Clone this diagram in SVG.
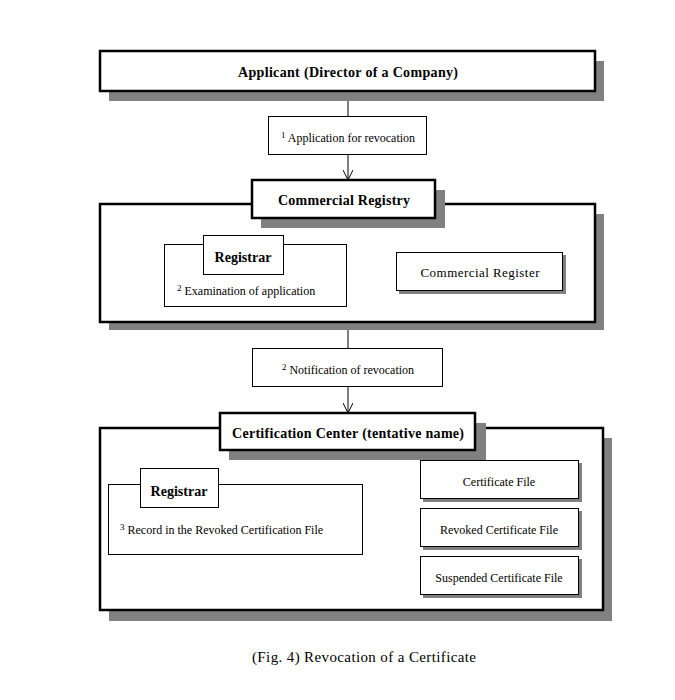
<svg xmlns="http://www.w3.org/2000/svg" width="675" height="700" viewBox="0 0 675 700">
<style>
text{font-family:"Liberation Serif","Times New Roman",serif;fill:#000}
.b{font-weight:bold;font-size:14px}
.s{font-size:12px}
.m{font-size:13px}
.sup{font-size:9px}
.thick{fill:#fff;stroke:#000;stroke-width:2.5}
.thin{fill:#fff;stroke:#000;stroke-width:1}
.sh{fill:#808080}
.conn{stroke:#000;stroke-width:1;fill:none}
</style>
<defs>
<marker id="arr" viewBox="0 0 10 10" refX="10" refY="5" markerWidth="10" markerHeight="10" markerUnits="userSpaceOnUse" orient="auto">
<path d="M0,0 L10,5 L0,10" fill="none" stroke="#000" stroke-width="1"/>
</marker>
</defs>
<rect width="675" height="700" fill="#fff"/>

<g id="connectors">
<line class="conn" x1="348" y1="91" x2="348" y2="116"/>
<line class="conn" x1="348" y1="155" x2="348" y2="180" marker-end="url(#arr)"/>
<line class="conn" x1="348" y1="322" x2="348" y2="348"/>
<line class="conn" x1="348" y1="387" x2="348" y2="413" marker-end="url(#arr)"/>
</g>

<g id="applicant">
<rect class="sh" x="109" y="61" width="495" height="40"/>
<rect class="thick" x="100" y="51" width="495" height="40"/>
<text class="b" x="348" y="77" text-anchor="middle" textLength="220" lengthAdjust="spacing">Applicant (Director of a Company)</text>
</g>

<g id="label1">
<rect class="thin" x="268.5" y="116.5" width="158" height="38"/>
<text class="s" x="348" y="142" text-anchor="middle"><tspan class="sup" dy="-4">1</tspan><tspan dy="4"> Application for revocation</tspan></text>
</g>

<g id="commercial-registry">
<rect class="sh" x="109" y="214" width="495" height="116"/>
<rect class="thick" x="100" y="204" width="495" height="118"/>
<rect class="sh" x="261" y="190" width="184" height="38"/>
<rect class="thick" x="252" y="180" width="183" height="38"/>
<text class="b" x="344" y="205" text-anchor="middle" textLength="132" lengthAdjust="spacing">Commercial Registry</text>
</g>

<g id="registrar1">
<rect class="thin" x="164.5" y="244.5" width="182" height="62"/>
<rect class="thin" x="203.5" y="235.5" width="80" height="39"/>
<text class="b" x="243" y="262" text-anchor="middle">Registrar</text>
<text class="s" x="177" y="295"><tspan class="sup" dy="-4">2</tspan><tspan dy="4"> Examination of application</tspan></text>
</g>

<g id="commercial-register">
<rect class="sh" x="399" y="255" width="167" height="39"/>
<rect class="thin" x="396.5" y="252.5" width="166" height="38"/>
<text class="m" x="480" y="277" text-anchor="middle" textLength="119" lengthAdjust="spacing">Commercial Register</text>
</g>

<g id="label2">
<rect class="thin" x="252.5" y="348.5" width="190" height="38"/>
<text class="s" x="348" y="374" text-anchor="middle"><tspan class="sup" dy="-4">2</tspan><tspan dy="4"> Notification of revocation</tspan></text>
</g>

<g id="certification-center">
<rect class="sh" x="109" y="438" width="503" height="183"/>
<rect class="thick" x="100" y="428" width="503" height="182"/>
<rect class="sh" x="229" y="423" width="257" height="37"/>
<rect class="thick" x="220" y="413" width="255" height="37"/>
<text class="b" x="348" y="438" text-anchor="middle" textLength="232" lengthAdjust="spacing">Certification Center (tentative name)</text>
</g>

<g id="registrar2">
<rect class="thin" x="108.5" y="484.5" width="254" height="70"/>
<rect class="thin" x="140.5" y="468.5" width="78" height="39"/>
<text class="b" x="179" y="496" text-anchor="middle">Registrar</text>
<text class="s" x="120" y="534"><tspan class="sup" dy="-4">3</tspan><tspan dy="4"> Record in the Revoked Certification File</tspan></text>
</g>

<g id="certificate-file">
<rect class="sh" x="423" y="463" width="159" height="39"/>
<rect class="thin" x="420.5" y="460.5" width="158" height="38"/>
<text class="s" x="499" y="486" text-anchor="middle">Certificate File</text>
</g>

<g id="revoked-file">
<rect class="sh" x="423" y="511" width="159" height="39"/>
<rect class="thin" x="420.5" y="508.5" width="158" height="38"/>
<text class="s" x="499" y="534" text-anchor="middle">Revoked Certificate File</text>
</g>

<g id="suspended-file">
<rect class="sh" x="423" y="559" width="159" height="39"/>
<rect class="thin" x="420.5" y="556.5" width="158" height="38"/>
<text class="s" x="499" y="582" text-anchor="middle">Suspended Certificate File</text>
</g>

<text x="364" y="662" font-size="15" text-anchor="middle" textLength="224" lengthAdjust="spacing">(Fig. 4) Revocation of a Certificate</text>
</svg>
